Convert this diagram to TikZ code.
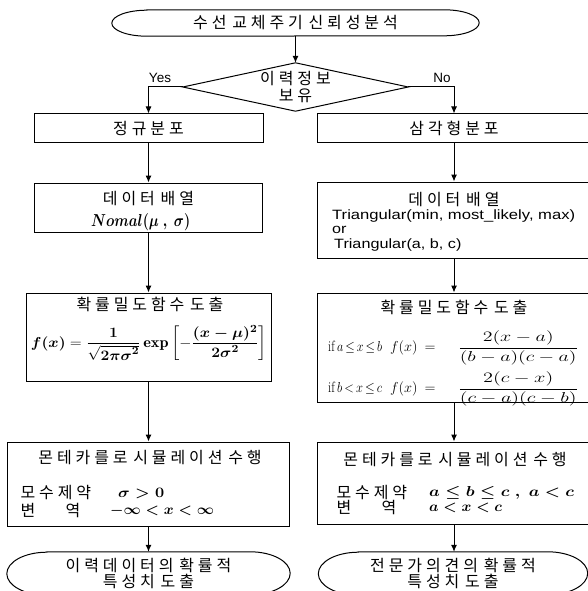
\documentclass[tikz,border=0pt]{standalone}
\usepackage{amsmath}
\usepackage{graphicx}
\usepackage{fontspec}
\newfontfamily\kr[WordSpace=1.6]{Noto Sans CJK KR}
\newfontfamily\lat{Liberation Sans}
\usetikzlibrary{arrows.meta}
% extra tracking between Hangul syllables
\XeTeXinterchartokenstate=1
\newXeTeXintercharclass\hgclass
\count255="AC00
\loop\XeTeXcharclass\count255=\hgclass\relax
  \advance\count255 by 1
  \ifnum\count255<"D7A4 \repeat
\XeTeXinterchartoks\hgclass\hgclass={\kern3.9pt}
\newcommand\termpath[3]{%
  \draw[line width=1pt] ([xshift=#2]#1.north west) -- ([xshift=-#2]#1.north east)
    arc[start angle=90,end angle=-90,x radius=#2,y radius=#3]
    -- ([xshift=#2]#1.south west)
    arc[start angle=270,end angle=90,x radius=#2,y radius=#3] -- cycle;}
\begin{document}
\begin{tikzpicture}[x=1pt,y=-1pt,
  kt/.style={font=\kr\fontsize{16}{16.5}\selectfont},
  lt/.style={font=\lat\fontsize{13.5}{15}\selectfont},
  mt/.style={inner sep=0pt,font=\fontsize{15}{17}\selectfont},
  box/.style={draw,line width=1pt,inner sep=0pt},
  hid/.style={inner sep=0pt},
  arr/.style={-{Latex[length=7pt,width=6pt]},line width=1pt}]
\useasboundingbox (0,0) rectangle (588,591);
\clip (0,0) rectangle (588,591);
% title
\node[hid,kt,minimum width=367pt,minimum height=26pt] (title) at (295.5,23) {수선 교체주기 신뢰성분석};
\termpath{title}{35pt}{13pt}
% decision
\node[hid,kt,minimum width=225pt,minimum height=48pt,align=center] (dia) at (295.5,87) {이력정보\\[0pt]보유};
\draw[line width=1pt] (dia.west) -- (dia.north) -- (dia.east) -- (dia.south) -- cycle;
\node[lt] (yes) at (160,78) {Yes};
\node[lt] (no) at (442,78) {No};
% left column
\node[box,kt,minimum width=229pt,minimum height=28pt] (nd) at (148.5,128) {정규분포};
\node[box,minimum width=228pt,minimum height=49pt] (ndata) at (148.5,207.5) {};
\node[kt] (ndt1) at (148.5,199) {데이터 배열};
\node[mt,anchor=west,font=\fontsize{16}{18}\selectfont] (ndt2) at (91,222) {\resizebox{99pt}{\height}{$\boldsymbol{Nomal(\mu\ ,\ \sigma)}$}};
\node[box,minimum width=245pt,minimum height=88pt] (npdf) at (148.5,337) {};
\node[kt] (npt1) at (150,304) {확률밀도함수 도출};
\node[mt] (npt2) at (149,343)
  {\resizebox{236pt}{\height}{$\boldsymbol{f(x)}=\dfrac{\boldsymbol{1}}{\sqrt{\boldsymbol{2\pi\sigma^2}}}\,\boldsymbol{\exp}\left[-\dfrac{\boldsymbol{(x-\mu)^2}}{\boldsymbol{2\sigma^2}}\right]$}};
\node[box,minimum width=282pt,minimum height=84pt] (nmc) at (148.5,484) {};
\node[kt] (nmt1) at (150,458) {몬테카를로 시뮬레이션 수행};
\node[kt,anchor=west] (nmt2) at (17,493) {모수제약};
\node[mt,anchor=west] (nmt3) at (118,493) {\resizebox{46pt}{\height}{$\boldsymbol{\sigma>0}$}};
\node[kt,anchor=west] (nmt4) at (17,511) {\makebox[45pt][l]{변}역};
\node[mt,anchor=west] (nmt5) at (110,511) {\resizebox{104pt}{\height}{$\boldsymbol{-\infty<x<\infty}$}};
\node[hid,kt,minimum width=283pt,minimum height=43pt,align=center] (nend) at (148.5,573.5) {이력데이터의 확률적\\특성치 도출};
\termpath{nend}{40pt}{21.5pt}
% right column
\node[box,kt,minimum width=274pt,minimum height=28pt] (tri) at (454,128) {삼각형분포};
\node[box,minimum width=274pt,minimum height=76pt] (tdata) at (454,220) {};
\node[kt] (tdt1) at (454,200) {데이터 배열};
\node[lt,anchor=west,hid] (tdt2) at (332,216) {\resizebox{243pt}{\height}{Triangular(min, most\_likely, max)}};
\node[lt,anchor=west,hid] (tdt3) at (332,230) {\scalebox{1.2}[1]{or}};
\node[lt,anchor=west,hid] (tdt4) at (334,245) {\scalebox{1.2}[1]{Triangular(a, b, c)}};
\node[box,minimum width=274pt,minimum height=109pt] (tpdf) at (454,347.5) {};
\node[kt] (tpt1) at (454,307) {확률밀도함수 도출};
\node[mt,anchor=west,font=\fontsize{15}{17}\selectfont] (tpt2) at (328,348)
  {\makebox[62pt][l]{\resizebox{54pt}{\height}{if\,$a\,{\le}\,x\,{\le}\,b$}}\makebox[68pt][l]{$f(x)$\hspace{7pt}$=$}\resizebox{120pt}{\height}{\fontsize{13.5}{16}\selectfont$\dfrac{2(x-a)}{(b-a)(c-a)}$}};
\node[mt,anchor=west,font=\fontsize{15}{17}\selectfont] (tpt3) at (328,389)
  {\makebox[62pt][l]{\resizebox{54pt}{\height}{if\,$b\,{<}\,x\,{\le}\,c$}}\makebox[68pt][l]{$f(x)$\hspace{7pt}$=$}\resizebox{120pt}{\height}{\fontsize{13.5}{16}\selectfont$\dfrac{2(c-x)}{(c-a)(c-b)}$}};
\node[box,minimum width=274pt,minimum height=82pt] (tmc) at (454,483) {};
\node[kt] (tmt1) at (455,460) {몬테카를로 시뮬레이션 수행};
\node[kt,anchor=west] (tmt2) at (333,493) {모수제약};
\node[mt,anchor=west] (tmt3) at (429,493) {\resizebox{145pt}{\height}{$\boldsymbol{a\le b\le c\ ,\ a<c}$}};
\node[kt,anchor=west] (tmt4) at (333,508) {\makebox[45pt][l]{변}역};
\node[mt,anchor=west] (tmt5) at (429,508) {\resizebox{73pt}{\height}{$\boldsymbol{a<x<c}$}};
\node[hid,kt,minimum width=269pt,minimum height=43pt,align=center] (tend) at (453,573.5) {전문가의견의 확률적\\특성치 도출};
\termpath{tend}{40pt}{21.5pt}
% connectors
\draw[arr] (title.south) -- (dia.north);
\draw[arr] (dia.west) -| (nd.north);
\draw[arr] (dia.east) -| (tri.north);
\draw[arr] (nd.south) -- (ndata.north);
\draw[arr] (ndata.south) -- (npdf.north);
\draw[arr] (npdf.south) -- (nmc.north);
\draw[arr] (nmc.south) -- (nend.north);
\draw[arr] (tri.south) -- (tdata.north);
\draw[arr] (tdata.south) -- (tpdf.north);
\draw[arr] (tpdf.south) -- (tmc.north);
\draw[arr] (tmc.south) -- (tmc.south |- tend.north);
\end{tikzpicture}
\end{document}
